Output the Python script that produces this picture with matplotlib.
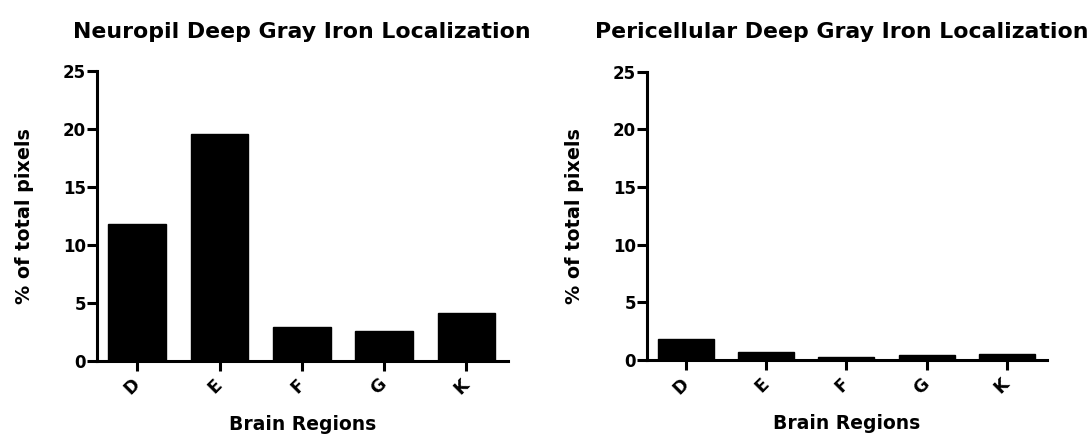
import matplotlib
matplotlib.use("Agg")
import matplotlib.pyplot as plt

plt.rcParams['font.family'] = ['DejaVu Sans']
plt.rcParams['font.weight'] = 'bold'

regions = ["D", "E", "F", "G", "K"]
neuropil = [11.8, 19.6, 2.9, 2.6, 4.1]
pericellular = [1.8, 0.7, 0.25, 0.45, 0.5]
yticks = [0, 5, 10, 15, 20, 25]

panels = [
    ("Neuropil Deep Gray Iron Localization", neuropil, [0.0888, 0.176, 0.376, 0.662], 0.5),
    ("Pericellular Deep Gray Iron Localization", pericellular, [0.5925, 0.178, 0.366, 0.658], 0.488),
]

fig = plt.figure(figsize=(10.92, 4.38), dpi=100)

for title, vals, rect, tx in panels:
    ax = fig.add_axes(rect)
    x = range(len(regions))
    ax.bar(x, vals, width=0.7, color="black", edgecolor="black")
    ax.set_xlim(-0.49, 4.5)
    ax.set_ylim(0, 25)
    ax.set_yticks(yticks)
    ax.set_xticks(list(x))
    ax.set_xticklabels(regions, rotation=45, ha="right", va="center",
                       rotation_mode="anchor", fontsize=12.5, fontweight="bold")
    ax.tick_params(axis="y", labelsize=12, width=2.2, length=7, direction="out", pad=1)
    ax.tick_params(axis="x", width=2.2, length=7, direction="out", pad=8)
    for lab in ax.get_yticklabels():
        lab.set_fontweight("bold")
    for side in ("top", "right"):
        ax.spines[side].set_visible(False)
    for side in ("left", "bottom"):
        ax.spines[side].set_linewidth(2.2)
    ax.set_ylabel("% of total pixels", fontsize=13.8, fontweight="bold", labelpad=21)
    ax.set_xlabel("Brain Regions", fontsize=13.5, fontweight="bold", labelpad=12)
    ax.set_title(title, fontsize=15.8, fontweight="bold", pad=24, x=tx)

fig.savefig("out.png", dpi=100)
